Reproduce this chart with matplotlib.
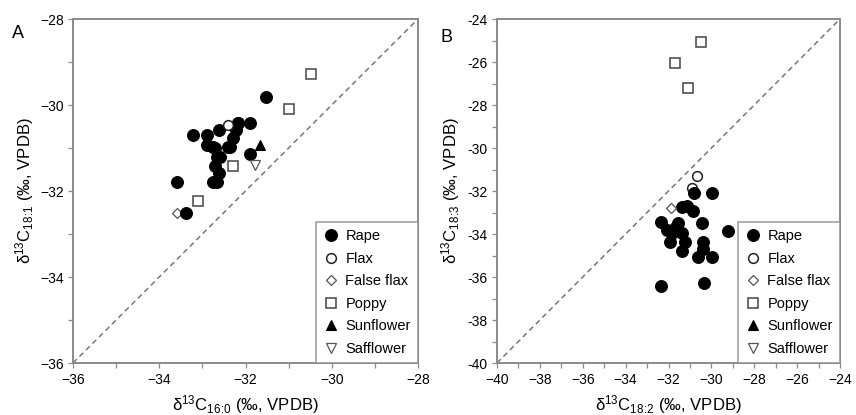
import matplotlib
matplotlib.use("Agg")
import matplotlib.pyplot as plt
from matplotlib.lines import Line2D
from matplotlib.ticker import MultipleLocator, FuncFormatter

plt.rcParams['font.family'] = ['Liberation Sans', 'DejaVu Sans']
plt.rcParams['mathtext.default'] = 'regular'

# ---------------- data: panel A (16:0 vs 18:1) ----------------
a_rape_x = [-31.52, -31.90, -32.18, -33.21, -32.90, -32.61, -32.22, -32.90, -32.71, -32.36,
            -32.28, -32.67, -32.71, -32.61, -32.76, -32.67, -33.60, -33.38, -31.90, -32.59,
            -32.75, -32.40, -32.17]
a_rape_y = [-29.82, -30.41, -30.41, -30.69, -30.69, -30.59, -30.59, -30.93, -31.00, -30.97,
            -30.77, -31.20, -31.41, -31.58, -31.80, -31.78, -31.80, -32.51, -31.14, -31.20,
            -30.97, -30.97, -30.42]
a_flax_x = [-32.40]
a_flax_y = [-30.47]
a_falseflax_x = [-33.60]
a_falseflax_y = [-32.51]
a_poppy_x = [-30.48, -30.98, -32.30, -33.11]
a_poppy_y = [-29.29, -30.10, -31.41, -32.23]
a_sunflower_x = [-31.67]
a_sunflower_y = [-30.94]
a_safflower_x = [-31.78]
a_safflower_y = [-31.39]

# ---------------- data: panel B (18:2 vs 18:3) ----------------
b_rape_x = [-30.79, -29.95, -31.38, -31.15, -30.84, -32.34, -31.54, -30.45, -29.21, -32.08,
            -31.85, -31.38, -31.92, -31.23, -30.40, -30.37, -31.38, -30.61, -29.98, -32.34,
            -30.33, -31.69]
b_rape_y = [-32.07, -32.07, -32.75, -32.69, -32.95, -33.42, -33.47, -33.47, -33.85, -33.80,
            -33.96, -33.96, -34.35, -34.35, -34.39, -34.70, -34.81, -35.07, -35.07, -36.41,
            -36.28, -33.73]
b_flax_x = [-30.68, -30.91]
b_flax_y = [-31.30, -31.87]
b_falseflax_x = [-31.88]
b_falseflax_y = [-32.80]
b_poppy_x = [-30.48, -31.68, -31.10]
b_poppy_y = [-25.08, -26.06, -27.21]

labels = ["Rape", "Flax", "False flax", "Poppy", "Sunflower", "Safflower"]

GRAY = '#8a8a8a'
styles = {
    "Rape": dict(marker='o', ms=8.5, mfc='black', mec='black', mew=0.8),
    "Flax": dict(marker='o', ms=7, mfc='white', mec='#222222', mew=1.1),
    "False flax": dict(marker='D', ms=5.5, mfc='white', mec='#555555', mew=0.9),
    "Poppy": dict(marker='s', ms=7.5, mfc='white', mec='#444444', mew=1.1),
    "Sunflower": dict(marker='^', ms=7.5, mfc='black', mec='black', mew=0.8),
    "Safflower": dict(marker='v', ms=7.5, mfc='white', mec='#555555', mew=0.9),
}

fig = plt.figure(figsize=(8.56, 4.15), dpi=100)
axA = fig.add_axes([73/856, 1-363/415, 345/856, 344/415])
axB = fig.add_axes([497/856, 1-363/415, 343/856, 344/415])


def style_axes(ax, lo, hi, hyphen_y=False):
    ax.set_xlim(lo, hi)
    ax.set_ylim(lo, hi)
    ax.plot([lo, hi], [lo, hi], ls=(0, (3.5, 2.5)), color='#777777', lw=1.1, zorder=1)
    for s in ax.spines.values():
        s.set_color(GRAY)
        s.set_linewidth(1.4)
    ax.xaxis.set_major_locator(MultipleLocator(2))
    ax.yaxis.set_major_locator(MultipleLocator(2))
    ax.xaxis.set_minor_locator(MultipleLocator(1))
    ax.yaxis.set_minor_locator(MultipleLocator(1))
    ax.tick_params(which='both', direction='out', length=3.5, width=0.9, color=GRAY,
                   labelsize=10, pad=3)
    ax.tick_params(axis='x', which='both', pad=4)
    ax.tick_params(which='both', top=False, right=False)
    if hyphen_y:
        ax.yaxis.set_major_formatter(FuncFormatter(lambda v, p: "%d" % v))


style_axes(axA, -36, -28)
style_axes(axB, -40, -24, hyphen_y=True)


def pts(ax, x, y, name, z):
    ax.plot(x, y, ls='none', zorder=z, **styles[name])


pts(axA, a_rape_x, a_rape_y, "Rape", 3)
pts(axA, a_flax_x, a_flax_y, "Flax", 4)
pts(axA, a_falseflax_x, a_falseflax_y, "False flax", 2)
pts(axA, a_poppy_x, a_poppy_y, "Poppy", 3)
pts(axA, a_sunflower_x, a_sunflower_y, "Sunflower", 3)
pts(axA, a_safflower_x, a_safflower_y, "Safflower", 3)

pts(axB, b_flax_x, b_flax_y, "Flax", 2)
pts(axB, b_rape_x, b_rape_y, "Rape", 3)
pts(axB, b_falseflax_x, b_falseflax_y, "False flax", 3)
pts(axB, b_poppy_x, b_poppy_y, "Poppy", 3)

for ax in (axA, axB):
    handles = [Line2D([], [], ls='none', **styles[n]) for n in labels]
    leg = ax.legend(handles, labels, loc='lower right', borderaxespad=0, fontsize=10.5,
                    frameon=True, fancybox=False, handlelength=1.0, handletextpad=0.5,
                    labelspacing=0.58, borderpad=0.5)
    leg.get_frame().set_edgecolor(GRAY)
    leg.get_frame().set_linewidth(1.2)
    leg.set_zorder(5)

axA.set_xlabel(r'δ$^{13}$C$_{16\!:\!0}$ (‰, VPDB)', fontsize=12, labelpad=4)
axA.set_ylabel(r'δ$^{13}$C$_{18\!:\!1}$ (‰, VPDB)', fontsize=12, labelpad=3)
axB.set_xlabel(r'δ$^{13}$C$_{18\!:\!2}$ (‰, VPDB)', fontsize=12, labelpad=4)
axB.set_ylabel(r'δ$^{13}$C$_{18\!:\!3}$ (‰, VPDB)', fontsize=12, labelpad=4)

fig.text(18/856, 1-33/415, 'A', fontsize=13, ha='center', va='center')
fig.text(446/856, 1-37/415, 'B', fontsize=13, ha='center', va='center')

fig.savefig('out.png', dpi=100)
